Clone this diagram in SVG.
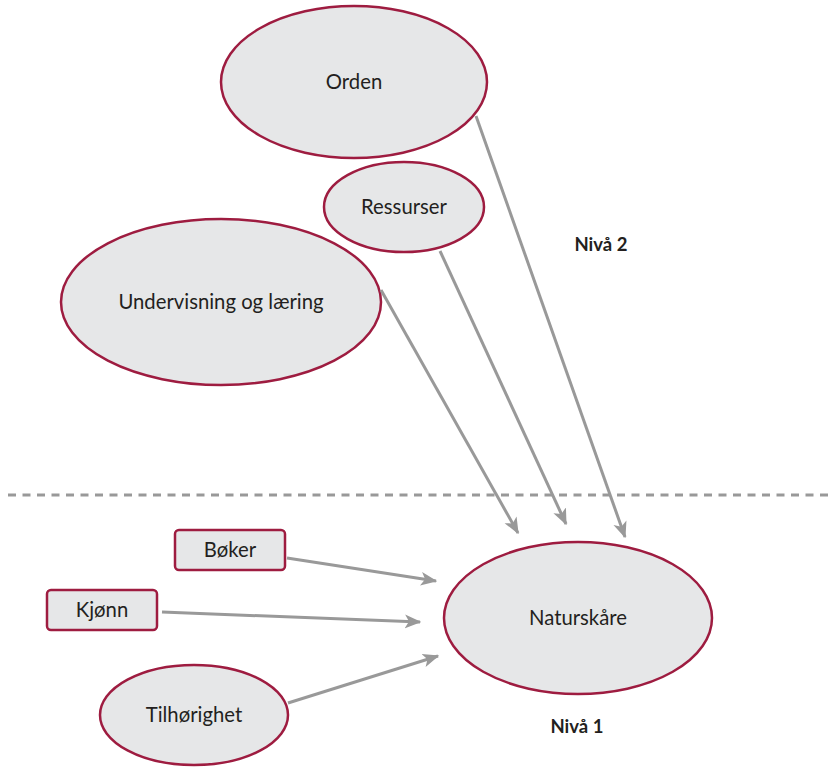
<svg xmlns="http://www.w3.org/2000/svg" width="828" height="768" viewBox="0 0 828 768">
<defs>
<style>
.n{fill:#e6e7e8;stroke:#9e1c40;stroke-width:2.5}
.t{font-family:Lato,"Open Sans",sans-serif;font-size:20.3px;fill:#231f20;text-anchor:middle}
.b{font-family:Lato,"Open Sans",sans-serif;font-size:18.5px;font-weight:bold;fill:#231f20;text-anchor:middle}
.c{stroke:#999;stroke-width:3;fill:none;marker-end:url(#ah)}
</style>
<marker id="ah" viewBox="0 0 12 10" refX="11" refY="5" markerWidth="5.5" markerHeight="5.5" orient="auto" markerUnits="strokeWidth">
<path d="M0,0 L12,5 L0,10 L3,5 Z" fill="#999"/>
</marker>
</defs>
<line x1="8" y1="495" x2="828" y2="495" stroke="#999" stroke-width="3" stroke-dasharray="8,6.5"/>
<g id="n-orden"><ellipse class="n" cx="354" cy="82" rx="133" ry="76"/><text class="t" x="354" y="89">Orden</text></g>
<g id="n-undervisning"><ellipse class="n" cx="221" cy="302" rx="160" ry="83"/><text class="t" x="221" y="309">Undervisning og læring</text></g>
<g id="n-ressurser"><ellipse class="n" cx="404" cy="207" rx="80" ry="45"/><text class="t" x="404" y="214">Ressurser</text></g>
<g id="n-naturskare"><ellipse class="n" cx="578" cy="618" rx="134" ry="76"/><text class="t" x="578" y="625">Naturskåre</text></g>
<g id="n-tilhorighet"><ellipse class="n" cx="194" cy="715" rx="94" ry="50"/><text class="t" x="194" y="722">Tilhørighet</text></g>
<g id="n-boker"><rect class="n" x="175" y="530" width="110" height="40" rx="4"/><text class="t" x="230" y="557">Bøker</text></g>
<g id="n-kjonn"><rect class="n" x="47" y="590" width="110" height="40" rx="4"/><text class="t" x="102" y="617">Kjønn</text></g>
<g id="labels">
<text class="b" x="601" y="251">Nivå 2</text>
<text class="b" x="577" y="733">Nivå 1</text>
</g>
<g id="connectors">
<line class="c" x1="476" y1="116" x2="625" y2="537"/>
<line class="c" x1="440" y1="251" x2="566" y2="524"/>
<line class="c" x1="381" y1="290" x2="518" y2="533"/>
<line class="c" x1="287" y1="558" x2="436" y2="581"/>
<line class="c" x1="162" y1="612" x2="420" y2="622"/>
<line class="c" x1="288" y1="703" x2="438" y2="656"/>
</g>
</svg>
